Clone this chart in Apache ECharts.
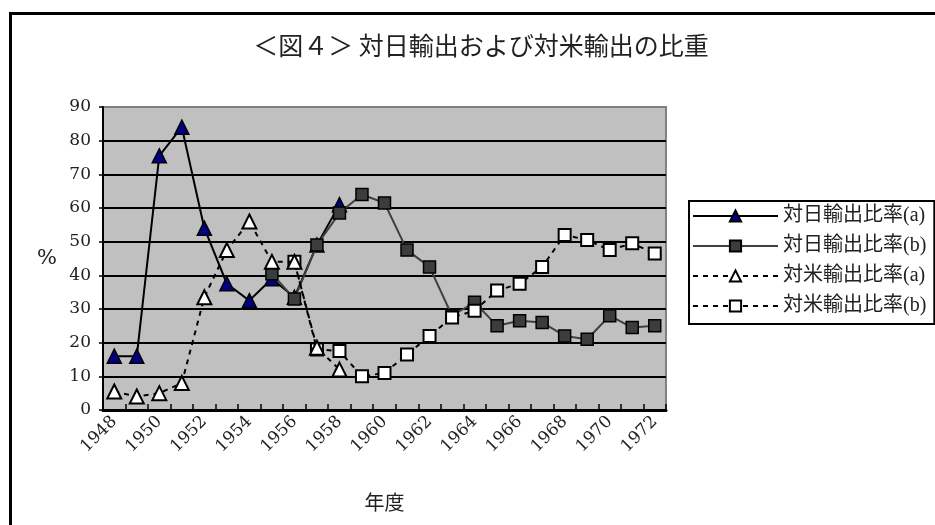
<!DOCTYPE html>
<html>
<head>
<meta charset="utf-8">
<script src="https://cdn.jsdelivr.net/npm/echarts@6/dist/echarts.min.js"></script>
<style>
  html, body { margin: 0; padding: 0; background: #fff; }
  #chart { width: 935px; height: 525px; }
</style>
</head>
<body>
<div id="chart"></div>
<script>
// 年度 (1948–1972)
const years = [
  '1948','1949','1950','1951','1952','1953','1954','1955','1956','1957','1958','1959','1960',
  '1961','1962','1963','1964','1965','1966','1967','1968','1969','1970','1971','1972'
];

// 対日輸出比率(a) 1948–1958
const japanA = [16, 16, 75.5, 84, 54, 37.5, 32.5, 39, 33.5, 49, 61,
  null, null, null, null, null, null, null, null, null, null, null, null, null, null];

// 対日輸出比率(b) 1955–1972
const japanB = [null, null, null, null, null, null, null,
  40.5, 33, 49, 58.5, 64, 61.5, 47.5, 42.5, 28, 32, 25, 26.5, 26, 22, 21, 28, 24.5, 25];

// 対米輸出比率(a) 1948–1958
const usA = [5.5, 4, 5, 8, 33.5, 47.5, 56, 44, 44, 18.5, 12,
  null, null, null, null, null, null, null, null, null, null, null, null, null, null];

// 対米輸出比率(b) 1956–1972
const usB = [null, null, null, null, null, null, null, null,
  44, 18, 17.5, 10, 11, 16.5, 22, 27.5, 29.5, 35.5, 37.5, 42.5, 52, 50.5, 47.5, 49.5, 46.5];

const seriesNames = ['対日輸出比率(a)', '対日輸出比率(b)', '対米輸出比率(a)', '対米輸出比率(b)'];
const yTicks = [0, 10, 20, 30, 40, 50, 60, 70, 80, 90];

const FONT = "'DejaVu Serif', 'Noto Sans CJK JP', serif";
const LEGEND_FONT = "'Liberation Serif', 'Noto Sans CJK JP', serif";
const DASH = [5, 5];

const chart = echarts.init(document.getElementById('chart'));

chart.setOption({
  animation: false,
  backgroundColor: '#ffffff',
  graphic: [
    {
      type: 'rect',
      shape: { x: 10.5, y: 13.5, width: 960, height: 560 },
      style: { fill: 'none', stroke: '#000', lineWidth: 3 },
      silent: true
    },
    {
      type: 'text',
      style: {
        x: 481, y: 45,
        text: '＜図４＞ 対日輸出および対米輸出の比重',
        align: 'center', verticalAlign: 'middle',
        font: "25px 'Noto Sans CJK JP', sans-serif",
        fill: '#222'
      },
      silent: true
    }
  ],
  grid: {
    left: 103, right: 269, top: 107, bottom: 115,
    show: true,
    backgroundColor: '#c0c0c0',
    borderColor: '#808080',
    borderWidth: 2
  },
  legend: {
    orient: 'vertical',
    left: 689, top: 201,
    data: seriesNames,
    itemWidth: 85,
    itemHeight: 14,
    itemGap: 10,
    padding: [5, 8, 8, 3],
    borderColor: '#000',
    borderWidth: 2,
    backgroundColor: '#fff',
    textStyle: { fontFamily: LEGEND_FONT, fontSize: 20, color: '#222', lineHeight: 20 }
  },
  xAxis: {
    type: 'category',
    data: years,
    boundaryGap: true,
    name: '年度',
    nameLocation: 'middle',
    nameGap: 82,
    nameTextStyle: { fontFamily: "'Noto Sans CJK JP', sans-serif", fontSize: 20, color: '#222' },
    axisLine: { lineStyle: { color: '#000', width: 3 } },
    axisTick: { show: true, inside: true, length: 6, interval: 0, lineStyle: { color: '#000', width: 1.5 } },
    axisLabel: {
      interval: 1, rotate: 45, margin: 9,
      fontFamily: FONT, fontSize: 17, color: '#222'
    },
    splitLine: { show: false }
  },
  yAxis: {
    type: 'value',
    min: yTicks[0], max: yTicks[yTicks.length - 1], interval: 10,
    name: '%',
    nameLocation: 'middle',
    nameRotate: 0,
    nameGap: 46,
    nameTextStyle: { fontFamily: FONT, fontSize: 21, color: '#222' },
    axisLine: { show: true, lineStyle: { color: '#000', width: 2 } },
    axisTick: { show: true, inside: false, length: 4, lineStyle: { color: '#000', width: 1.5 } },
    axisLabel: { margin: 12, fontFamily: FONT, fontSize: 17, color: '#222' },
    splitLine: { show: true, showMaxLine: false, lineStyle: { color: '#000', width: 2 } }
  },
  series: [
    {
      name: seriesNames[0], type: 'line', data: japanA, z: 2,
      symbol: 'triangle', symbolSize: 14,
      lineStyle: { color: '#000', width: 2 },
      itemStyle: { color: '#000080', borderColor: '#000', borderWidth: 1.5 }
    },
    {
      name: seriesNames[1], type: 'line', data: japanB, z: 3,
      symbol: 'rect', symbolSize: 12,
      lineStyle: { color: '#404040', width: 2 },
      itemStyle: { color: '#3c3c3c', borderColor: '#000', borderWidth: 1.5 }
    },
    {
      name: seriesNames[2], type: 'line', data: usA, z: 5,
      symbol: 'triangle', symbolSize: 14,
      lineStyle: { color: '#000', width: 2, type: DASH },
      itemStyle: { color: '#fff', borderColor: '#000', borderWidth: 2 }
    },
    {
      name: seriesNames[3], type: 'line', data: usB, z: 4,
      symbol: 'rect', symbolSize: 12,
      lineStyle: { color: '#000', width: 2, type: DASH },
      itemStyle: { color: '#fff', borderColor: '#000', borderWidth: 2 }
    }
  ]
});
</script>
</body>
</html>
